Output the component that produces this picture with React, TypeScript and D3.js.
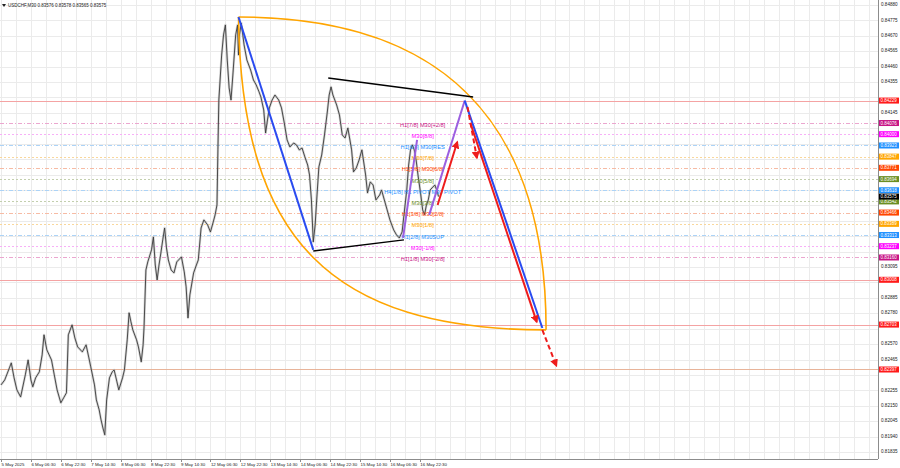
import React from "react";
import * as d3 from "d3";

const W = 900;
const H = 468;

// ---- axis tick labels ----
const priceTicks = [
  0.8488, 0.84775, 0.8467, 0.84565, 0.8446, 0.84355, 0.8425, 0.84145, 0.8404, 0.83935,
  0.8383, 0.83725, 0.8362, 0.83515, 0.8341, 0.83305, 0.832, 0.83095, 0.8299, 0.82885,
  0.8278, 0.82675, 0.8257, 0.82465, 0.8236, 0.82255, 0.8215, 0.82045, 0.8194, 0.81835,
];
const timeLabels = [
  "5 May 2025", "6 May 06:30", "6 May 22:30", "7 May 14:30", "8 May 06:30", "8 May 22:30",
  "9 May 14:30", "12 May 06:30", "12 May 22:30", "13 May 14:30", "14 May 06:30",
  "14 May 22:30", "15 May 14:30", "16 May 06:30", "16 May 22:30",
];
const timeLabelBars = [0, 32, 64, 96, 128, 160, 192, 224, 256, 288, 320, 352, 384, 416, 448];

// ---- price series (bar index, close) ----
const priceBars = [
  0, 4, 9, 11, 14, 17, 21, 26, 29, 32, 34, 37, 41, 44, 46, 49, 54, 57, 60, 64,
  67, 70, 72, 76, 79, 82, 87, 91, 94, 96, 100, 102, 105, 107, 109, 111, 113, 116, 119, 121,
  124, 126, 130, 132, 135, 137, 139, 141, 145, 147, 150, 152, 153, 155, 157, 161, 163, 165, 167, 169,
  171, 173, 175, 177, 179, 182, 185, 188, 193, 196, 198, 200, 202, 206, 209, 211, 214, 217, 221, 224,
  227, 229, 231, 232, 233, 236, 238, 240, 242, 244, 246, 248, 251, 253, 254, 255, 257, 260, 263, 267,
  270, 273, 276, 278, 281, 283, 285, 287, 290, 293, 297, 300, 303, 306, 309, 313, 316, 319, 322, 325,
  328, 330, 332, 334, 336, 338, 340, 343, 346, 349, 351, 353, 355, 359, 362, 365, 368, 371, 375, 377,
  380, 383, 386, 390, 392, 395, 398, 401, 405, 407, 410, 413, 416, 420, 423, 426, 429, 431, 434, 436,
  438, 440, 442, 444, 446, 449, 451, 453, 455, 457, 459, 461, 464, 466, 468,
];
const priceClose = [
  0.82292, 0.82326, 0.82408, 0.82442, 0.8234, 0.82258, 0.8221, 0.8236, 0.82462, 0.82326,
  0.82279, 0.8234, 0.82381, 0.82496, 0.82633, 0.82531, 0.82462, 0.8236, 0.82258, 0.8217,
  0.82204, 0.82238, 0.82633, 0.82701, 0.82612, 0.82551, 0.82517, 0.82565, 0.82476, 0.82415,
  0.82292, 0.8219, 0.82122, 0.82054, 0.81999, 0.81952, 0.8219, 0.8234, 0.82381, 0.82394,
  0.82313, 0.82258, 0.8234, 0.82394, 0.82599, 0.82783, 0.82721, 0.82667, 0.82599, 0.82551,
  0.82449, 0.82565, 0.82687, 0.83075, 0.8313, 0.83212, 0.833, 0.83109, 0.83007, 0.83109,
  0.83191, 0.8328, 0.83361, 0.83225, 0.83143, 0.83075, 0.83055, 0.8313, 0.83164, 0.83062,
  0.8296, 0.82748, 0.82905, 0.83055, 0.83109, 0.83143, 0.83361, 0.83416, 0.83382, 0.83334,
  0.83402, 0.8345, 0.83518, 0.83893, 0.84233, 0.84539, 0.84676, 0.84744, 0.84505, 0.84315,
  0.84233, 0.84403, 0.84676, 0.84744, 0.84539, 0.84676, 0.84757, 0.84608, 0.84505, 0.84437,
  0.84369, 0.84335, 0.84288, 0.84253, 0.84165, 0.84008, 0.84097, 0.84179, 0.84233, 0.84267,
  0.84233, 0.84179, 0.84076, 0.83961, 0.83913, 0.8394, 0.83927, 0.83893, 0.83906, 0.83845,
  0.8379, 0.83722, 0.83552, 0.83266, 0.83382, 0.83586, 0.83777, 0.83858, 0.83995, 0.84151,
  0.84267, 0.84322, 0.84267, 0.84199, 0.84131, 0.83995, 0.83974, 0.84042, 0.83893, 0.83743,
  0.8377, 0.83824, 0.83893, 0.83722, 0.836, 0.83675, 0.83654, 0.83552, 0.83586, 0.8362,
  0.83552, 0.83484, 0.83416, 0.83348, 0.83314, 0.83293, 0.83334, 0.8345, 0.8362, 0.8379,
  0.83893, 0.83927, 0.83893, 0.83824, 0.83722, 0.83586, 0.83484, 0.8345, 0.83518, 0.83552,
  0.8362, 0.83634, 0.83654, 0.8362, 0.83575,
];
const currentPrice = 0.83575;
const titleText = "USDCHF,M30  0.83576 0.83578 0.83565 0.83575";

// ---- horizontal levels ----
const levelValues = [
  0.84229, 0.84076, 0.84, 0.83923, 0.83847, 0.83771, 0.83694, 0.83618,
  0.83542, 0.83466, 0.83389, 0.83313, 0.83237, 0.8316, 0.83008, 0.82703, 0.82397,
];
const levelColors = [
  "#ff1a1a", "#c71585", "#ff00ff", "#1e90ff", "#ffa500", "#ff4500", "#6b8e23", "#1e90ff",
  "#6b8e23", "#ff4500", "#ffa500", "#1e90ff", "#ff00ff", "#c71585", "#ff1a1a", "#ff1a1a", "#ff1a1a",
];
const levelLineColors = [
  "#f4a3a3", "#eba6cf", "#f7b0f7", "#acd3f7", "#f9d79c", "#f7bba4", "#c3cfae", "#acd3f7",
  "#c3cfae", "#f7bba4", "#f9d79c", "#acd3f7", "#f7b0f7", "#eba6cf", "#f4a3a3", "#f4a3a3", "#e8b49a",
];
const levelDash = [
  "", "4,2,1,2", "2,2", "4,2,1,2", "2,2", "4,2,1,2", "2,2", "4,2,1,2",
  "2,2", "4,2,1,2", "2,2", "4,2,1,2", "2,2", "4,2,1,2", "", "", "",
];

const levelTexts = [
  "H1[7/8] M30[+2/8]", "M30[8/8]", "H1[6/8] M30[RES", "M30[7/8]", "H1[5/8] M30[6/8]",
  "M30[5/8]", "H4[1/8] H1 PIVOT M30 PIVOT", "M30[3/8]", "H1[3/8] M30[2/8]", "M30[1/8]",
  "H1[2/8] M30SUP", "M30[-1/8]", "H1[1/8] M30[-2/8]",
];
const levelTextValues = [
  0.84076, 0.84, 0.83923, 0.83847, 0.83771, 0.83694, 0.83618, 0.83542, 0.83466, 0.83389,
  0.83313, 0.83237, 0.8316,
];
const levelTextColors = [
  "#c71585", "#ff00ff", "#1e90ff", "#ffa500", "#ff4500", "#6b8e23", "#1e90ff", "#6b8e23",
  "#ff4500", "#ffa500", "#1e90ff", "#ff00ff", "#c71585",
];
const levelTextBar = 451;

// ---- drawing objects (bar, price) ----
const blueLines = [
  [[254, 0.84798], [334, 0.83212]],
  [[496, 0.84229], [579, 0.8268]],
];
const blackLines = [
  [[350, 0.84383], [505, 0.84253]],
  [[334, 0.83205], [431, 0.8328]],
];
const purpleLines = [
  [[430, 0.83293], [445, 0.83961]],
  [[458, 0.8345], [496, 0.84229]],
];
const redSolidArrows = [
  [[467, 0.83518], [488, 0.83947]],
  [[502, 0.84076], [573, 0.82721]],
];
const redDashedArrows = [
  [[499, 0.84185], [509, 0.83838]],
  [[579, 0.82667], [594, 0.82422]],
];
// arcs: start, control1, control2, end
const arcs = [
  [[254, 0.84798], [460, 0.84798], [583, 0.84165], [583, 0.82667]],
  [[254, 0.84798], [257, 0.8328], [353, 0.82667], [583, 0.82667]],
];

const PLOT_R = 878;
const PLOT_B = 459;

export default function App() {
  const x = d3.scaleLinear().domain([0, 938]).range([1, PLOT_R]);
  const y = d3.scaleLinear().domain([0.81835, 0.8488]).range([452, 5]);

  const n = Math.min(priceBars.length, priceClose.length);
  const pts: [number, number][] = [];
  for (let i = 0; i < n; i++) pts.push([priceBars[i], priceClose[i]]);
  const line = d3
    .line<[number, number]>()
    .x((d) => x(d[0]))
    .y((d) => y(d[1]));
  const pricePath = line(pts) || "";

  const seg = (s: number[][]) => line(s as [number, number][]) || "";

  const arcPath = (a: number[][]) => {
    const p = d3.path();
    p.moveTo(x(a[0][0]), y(a[0][1]));
    p.bezierCurveTo(x(a[1][0]), y(a[1][1]), x(a[2][0]), y(a[2][1]), x(a[3][0]), y(a[3][1]));
    return p.toString();
  };

  const vGridBars = d3.range(0, 938, 16);
  const font = "'Liberation Sans', Arial, sans-serif";

  const labelYs = levelValues.map((v) => y(v)).concat([y(currentPrice)]);
  const tickVisible = (t: number) => labelYs.every((ly) => Math.abs(ly - y(t)) >= 5.5);

  return (
    <svg
      width={W}
      height={H}
      style={{ position: "absolute", left: 0, top: 0, background: "#fff" }}
      fontFamily={font}
    >
      <defs>
        <marker id="arrRed" viewBox="0 0 10 10" refX="8" refY="5" markerWidth="4" markerHeight="4" orient="auto">
          <path d="M0,0 L10,5 L0,10 z" fill="#ee1c1c" />
        </marker>
        <clipPath id="plot">
          <rect x={0} y={0} width={PLOT_R} height={PLOT_B} />
        </clipPath>
      </defs>
      <rect x={0} y={0} width={W} height={H} fill="#fff" />

      {/* grid */}
      <g stroke="#ebebeb" strokeWidth={1}>
        {priceTicks.map((t, i) => (
          <line key={"h" + i} x1={0} x2={PLOT_R} y1={Math.round(y(t)) + 0.5} y2={Math.round(y(t)) + 0.5} />
        ))}
        {vGridBars.map((b, i) => (
          <line key={"v" + i} x1={Math.round(x(b)) + 0.5} x2={Math.round(x(b)) + 0.5} y1={0} y2={PLOT_B} />
        ))}
      </g>

      <g clipPath="url(#plot)">
        {levelValues.map((v, i) => (
          <line
            key={"lv" + i}
            x1={0}
            x2={PLOT_R}
            y1={Math.round(y(v)) + 0.5}
            y2={Math.round(y(v)) + 0.5}
            stroke={levelLineColors[i]}
            strokeWidth={1}
            strokeDasharray={levelDash[i] || undefined}
          />
        ))}

        {/* price */}
        <path d={pricePath} fill="none" stroke="#b0b0b0" strokeWidth={2.4} strokeOpacity={0.55} strokeLinejoin="round" />
        <path d={pricePath} fill="none" stroke="#3a3a3a" strokeWidth={0.9} strokeLinejoin="round" />

        {levelTexts.map((t, i) => (
          <text
            key={"lt" + i}
            x={x(levelTextBar)}
            y={y(levelTextValues[i]) + 2}
            fontSize={5.7}
            fill={levelTextColors[i]}
            textAnchor="middle"
            dominantBaseline="middle"
          >
            {t}
          </text>
        ))}

        {arcs.map((a, i) => (
          <path key={"arc" + i} d={arcPath(a)} fill="none" stroke="#ffa500" strokeWidth={1.6} />
        ))}

        {blackLines.map((s, i) => (
          <path key={"bk" + i} d={seg(s)} stroke="#000" strokeWidth={1.5} fill="none" />
        ))}

        {purpleLines.map((s, i) => (
          <path key={"pu" + i} d={seg(s)} stroke="#9b5fe0" strokeWidth={2} fill="none" />
        ))}

        {blueLines.map((s, i) => (
          <path key={"bl" + i} d={seg(s)} stroke="#2a4bf0" strokeWidth={2} fill="none" />
        ))}

        {redSolidArrows.map((s, i) => (
          <path key={"rs" + i} d={seg(s)} stroke="#ee1c1c" strokeWidth={2} fill="none" markerEnd="url(#arrRed)" />
        ))}
        {redDashedArrows.map((s, i) => (
          <path
            key={"rd" + i}
            d={seg(s)}
            stroke="#ee1c1c"
            strokeWidth={2}
            strokeDasharray="5,3"
            fill="none"
            markerEnd="url(#arrRed)"
          />
        ))}
      </g>

      {/* frame */}
      <line x1={PLOT_R + 0.5} x2={PLOT_R + 0.5} y1={0} y2={PLOT_B} stroke="#8c8c8c" />
      <line x1={0} x2={PLOT_R} y1={PLOT_B + 0.5} y2={PLOT_B + 0.5} stroke="#8c8c8c" />

      {/* price axis ticks */}
      {priceTicks.map((t, i) =>
        tickVisible(t) ? (
          <text key={"pt" + i} x={PLOT_R + 3} y={y(t)} fontSize={4.6} fill="#222" dominantBaseline="middle">
            {t.toFixed(5)}
          </text>
        ) : null
      )}

      {/* level labels */}
      {levelValues.map((v, i) => (
        <g key={"lb" + i}>
          <rect x={PLOT_R + 1} y={y(v) - 3} width={20} height={6} fill={levelColors[i]} />
          <text x={PLOT_R + 2.5} y={y(v) + 0.3} fontSize={4.5} fill="#fff" dominantBaseline="middle">
            {v.toFixed(5)}
          </text>
        </g>
      ))}
      <g>
        <rect x={PLOT_R + 1} y={y(currentPrice) - 3} width={20} height={6} fill="#000" />
        <text x={PLOT_R + 2.5} y={y(currentPrice) + 0.3} fontSize={4.5} fill="#fff" dominantBaseline="middle">
          {currentPrice.toFixed(5)}
        </text>
      </g>

      {/* time axis */}
      {timeLabels.map((t, i) => (
        <g key={"tl" + i}>
          <line
            x1={Math.round(x(timeLabelBars[i])) + 0.5}
            x2={Math.round(x(timeLabelBars[i])) + 0.5}
            y1={PLOT_B}
            y2={PLOT_B + 3}
            stroke="#8c8c8c"
          />
          <text x={x(timeLabelBars[i]) + 0.5} y={466} fontSize={4.4} fill="#222">
            {t}
          </text>
        </g>
      ))}

      {/* title */}
      <path d="M2,4 L6,4 L4,7 z" fill="#222" />
      <text x={8} y={7} fontSize={4.5} fill="#222">
        {titleText}
      </text>
    </svg>
  );
}
